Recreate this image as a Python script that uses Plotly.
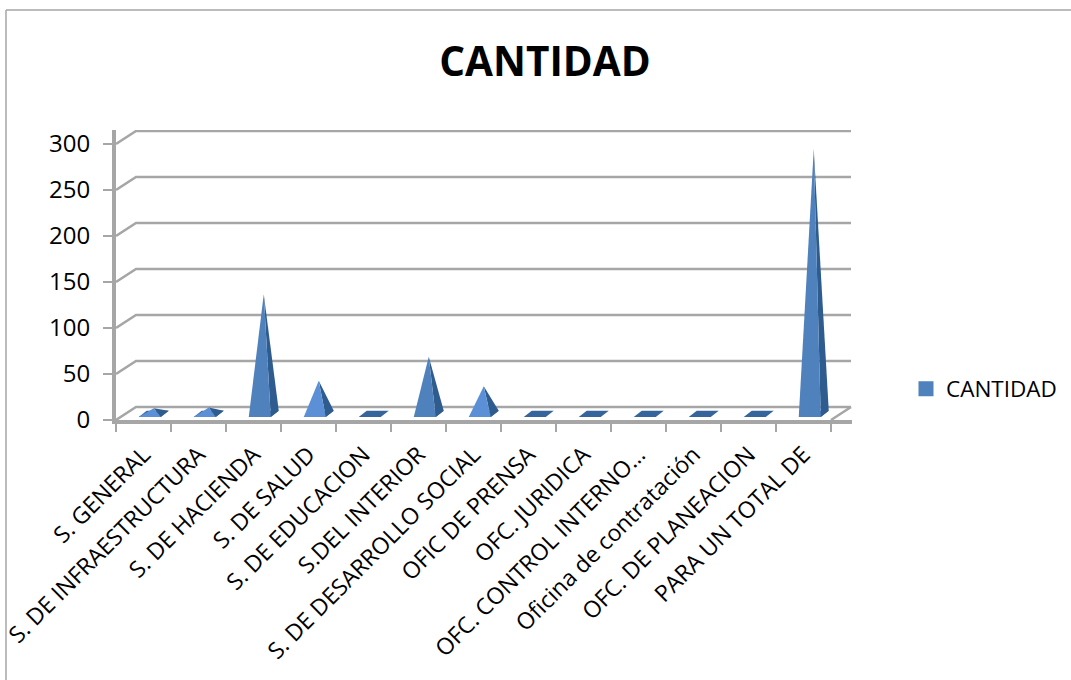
import plotly.graph_objects as go

# ---- data ----
categories = ["S. GENERAL", "S. DE INFRAESTRUCTURA", "S. DE HACIENDA", "S. DE SALUD",
              "S. DE EDUCACION", "S.DEL INTERIOR", "S. DE DESARROLLO SOCIAL", "OFIC DE PRENSA",
              "OFC. JURIDICA", "OFC. CONTROL INTERNO…", "Oficina de contratación",
              "OFC. DE PLANEACION", "PARA UN TOTAL DE"]
values = [6, 7, 130, 36, 0, 62, 30, 0, 0, 0, 0, 0, 288]
series_name = "CANTIDAD"
y_ticks = [0, 50, 100, 150, 200, 250, 300]

# ---- style ----
GRID = "#a6a6a6"
FRONT = "#4f81bd"
FRONT_LIGHT = "#5b90d6"
SIDE = "#2f5c8f"
FLAT = "#36659c"
FONT = "Open Sans, sans-serif"

W, H = 1071, 680
L, R, T, B = 116, 852, 130, 420     # plot area in pixels
X_UNIT = 55.0                       # pixels per category
Y_UNIT = 0.92                       # pixels per value unit
DX, DY = 20 / X_UNIT, 13 / Y_UNIT   # depth of the 3-D floor

x_range = [0, (R - L) / X_UNIT]
y_range = [0, (B - T) / Y_UNIT]
n = len(categories)

fig = go.Figure()


def line(xs, ys, width=2.5, color=GRID):
    fig.add_trace(go.Scatter(x=xs, y=ys, mode="lines", showlegend=False, hoverinfo="skip",
                             line=dict(color=color, width=width), cliponaxis=False))


def poly(xs, ys, color):
    fig.add_trace(go.Scatter(x=xs, y=ys, mode="lines", fill="toself", fillcolor=color,
                             showlegend=False, hoverinfo="skip", line=dict(width=0, color=color),
                             cliponaxis=False))


# wall grid lines with their slanted connectors
for t in y_ticks:
    line([0, DX, n + DX], [t, t + DY, t + DY])
line([n, n + DX], [0, DY])

# pyramids
HALF = 11 / X_UNIT
SHIFT = 9 / X_UNIT          # base centre sits right of the category centre
BACK = 8 / X_UNIT           # horizontal depth of the base
FRONT_Y = 3.3
BACK_Y = 10.0
for i, v in enumerate(values):
    c = i + 0.5 + SHIFT - 0.05
    fl, fr = c - HALF, c + HALF
    br, bl = fr + BACK, fl + BACK
    poly([fl, fr, br, bl, fl], [FRONT_Y, FRONT_Y, BACK_Y, BACK_Y, FRONT_Y], FLAT)
    if v > 0:
        ax, ay = c + BACK / 2, (FRONT_Y + BACK_Y) / 2 + v
        poly([fr, br, ax, fr], [FRONT_Y, BACK_Y, ay, FRONT_Y], SIDE)
        poly([fl, fr, ax, fl], [FRONT_Y, FRONT_Y, ay, FRONT_Y],
             FRONT_LIGHT if v < 50 else FRONT)

# legend entry
fig.add_trace(go.Scatter(x=[None], y=[None], mode="markers", name=series_name,
                         marker=dict(symbol="square", size=15, color=FRONT)))

fig.update_layout(
    width=W, height=H, autosize=False,
    margin=dict(l=L, r=W - R, t=T, b=H - B, pad=0, autoexpand=False),
    paper_bgcolor="white", plot_bgcolor="white",
    font=dict(family=FONT, color="black"),
    title=dict(text="<b>CANTIDAD</b>", x=545 / W, xanchor="center", xref="container",
               y=1 - 62 / H, yanchor="middle", yref="container",
               font=dict(size=40.5, family=FONT, color="black")),
    showlegend=True,
    legend=dict(x=(906 - L) / (R - L), xanchor="left", y=(B - 389) / (B - T), yanchor="middle",
                font=dict(size=22.5, family=FONT), bgcolor="rgba(0,0,0,0)", borderwidth=0),
    xaxis=dict(range=x_range, tickmode="array", tickvals=[i + 0.5 for i in range(n)],
               ticktext=categories, tickangle=-45, ticks="", ticklabelstandoff=8,
               tickfont=dict(size=23, family=FONT), showgrid=False, zeroline=False,
               showline=True, linecolor=GRID, linewidth=4,
               minor=dict(tickmode="array", tickvals=list(range(n + 1)), ticks="outside",
                          ticklen=8, tickwidth=2, tickcolor=GRID, showgrid=False)),
    yaxis=dict(range=y_range, tickmode="array", tickvals=y_ticks, ticks="outside", ticklen=9,
               tickwidth=2, tickcolor=GRID, tickfont=dict(size=24, family=FONT),
               ticklabelstandoff=8,
               showgrid=False, zeroline=False, showline=True, linecolor=GRID, linewidth=4),
    shapes=[
        # page frame of the pasted picture, hiding what falls left of it
        dict(type="rect", xref="paper", yref="paper", layer="above",
             x0=-L / (R - L), x1=(6 - L) / (R - L), y0=(B - H) / (B - T), y1=(B) / (B - T),
             fillcolor="white", line=dict(width=0)),
        dict(type="line", xref="paper", yref="paper", layer="above",
             x0=(6 - L) / (R - L), x1=(6 - L) / (R - L), y0=(B - H) / (B - T), y1=(B - 10) / (B - T),
             line=dict(color="#a6a6a6", width=1.5)),
        dict(type="line", xref="paper", yref="paper", layer="above",
             x0=(6 - L) / (R - L), x1=(W - L) / (R - L), y0=(B - 10) / (B - T), y1=(B - 10) / (B - T),
             line=dict(color="#a6a6a6", width=1.5)),
    ],
)

fig.write_html("out.html", config={"displayModeBar": False},
               post_script="document.body.style.margin='0';document.documentElement.style.overflow='hidden';window.dispatchEvent(new Event('resize'));")
